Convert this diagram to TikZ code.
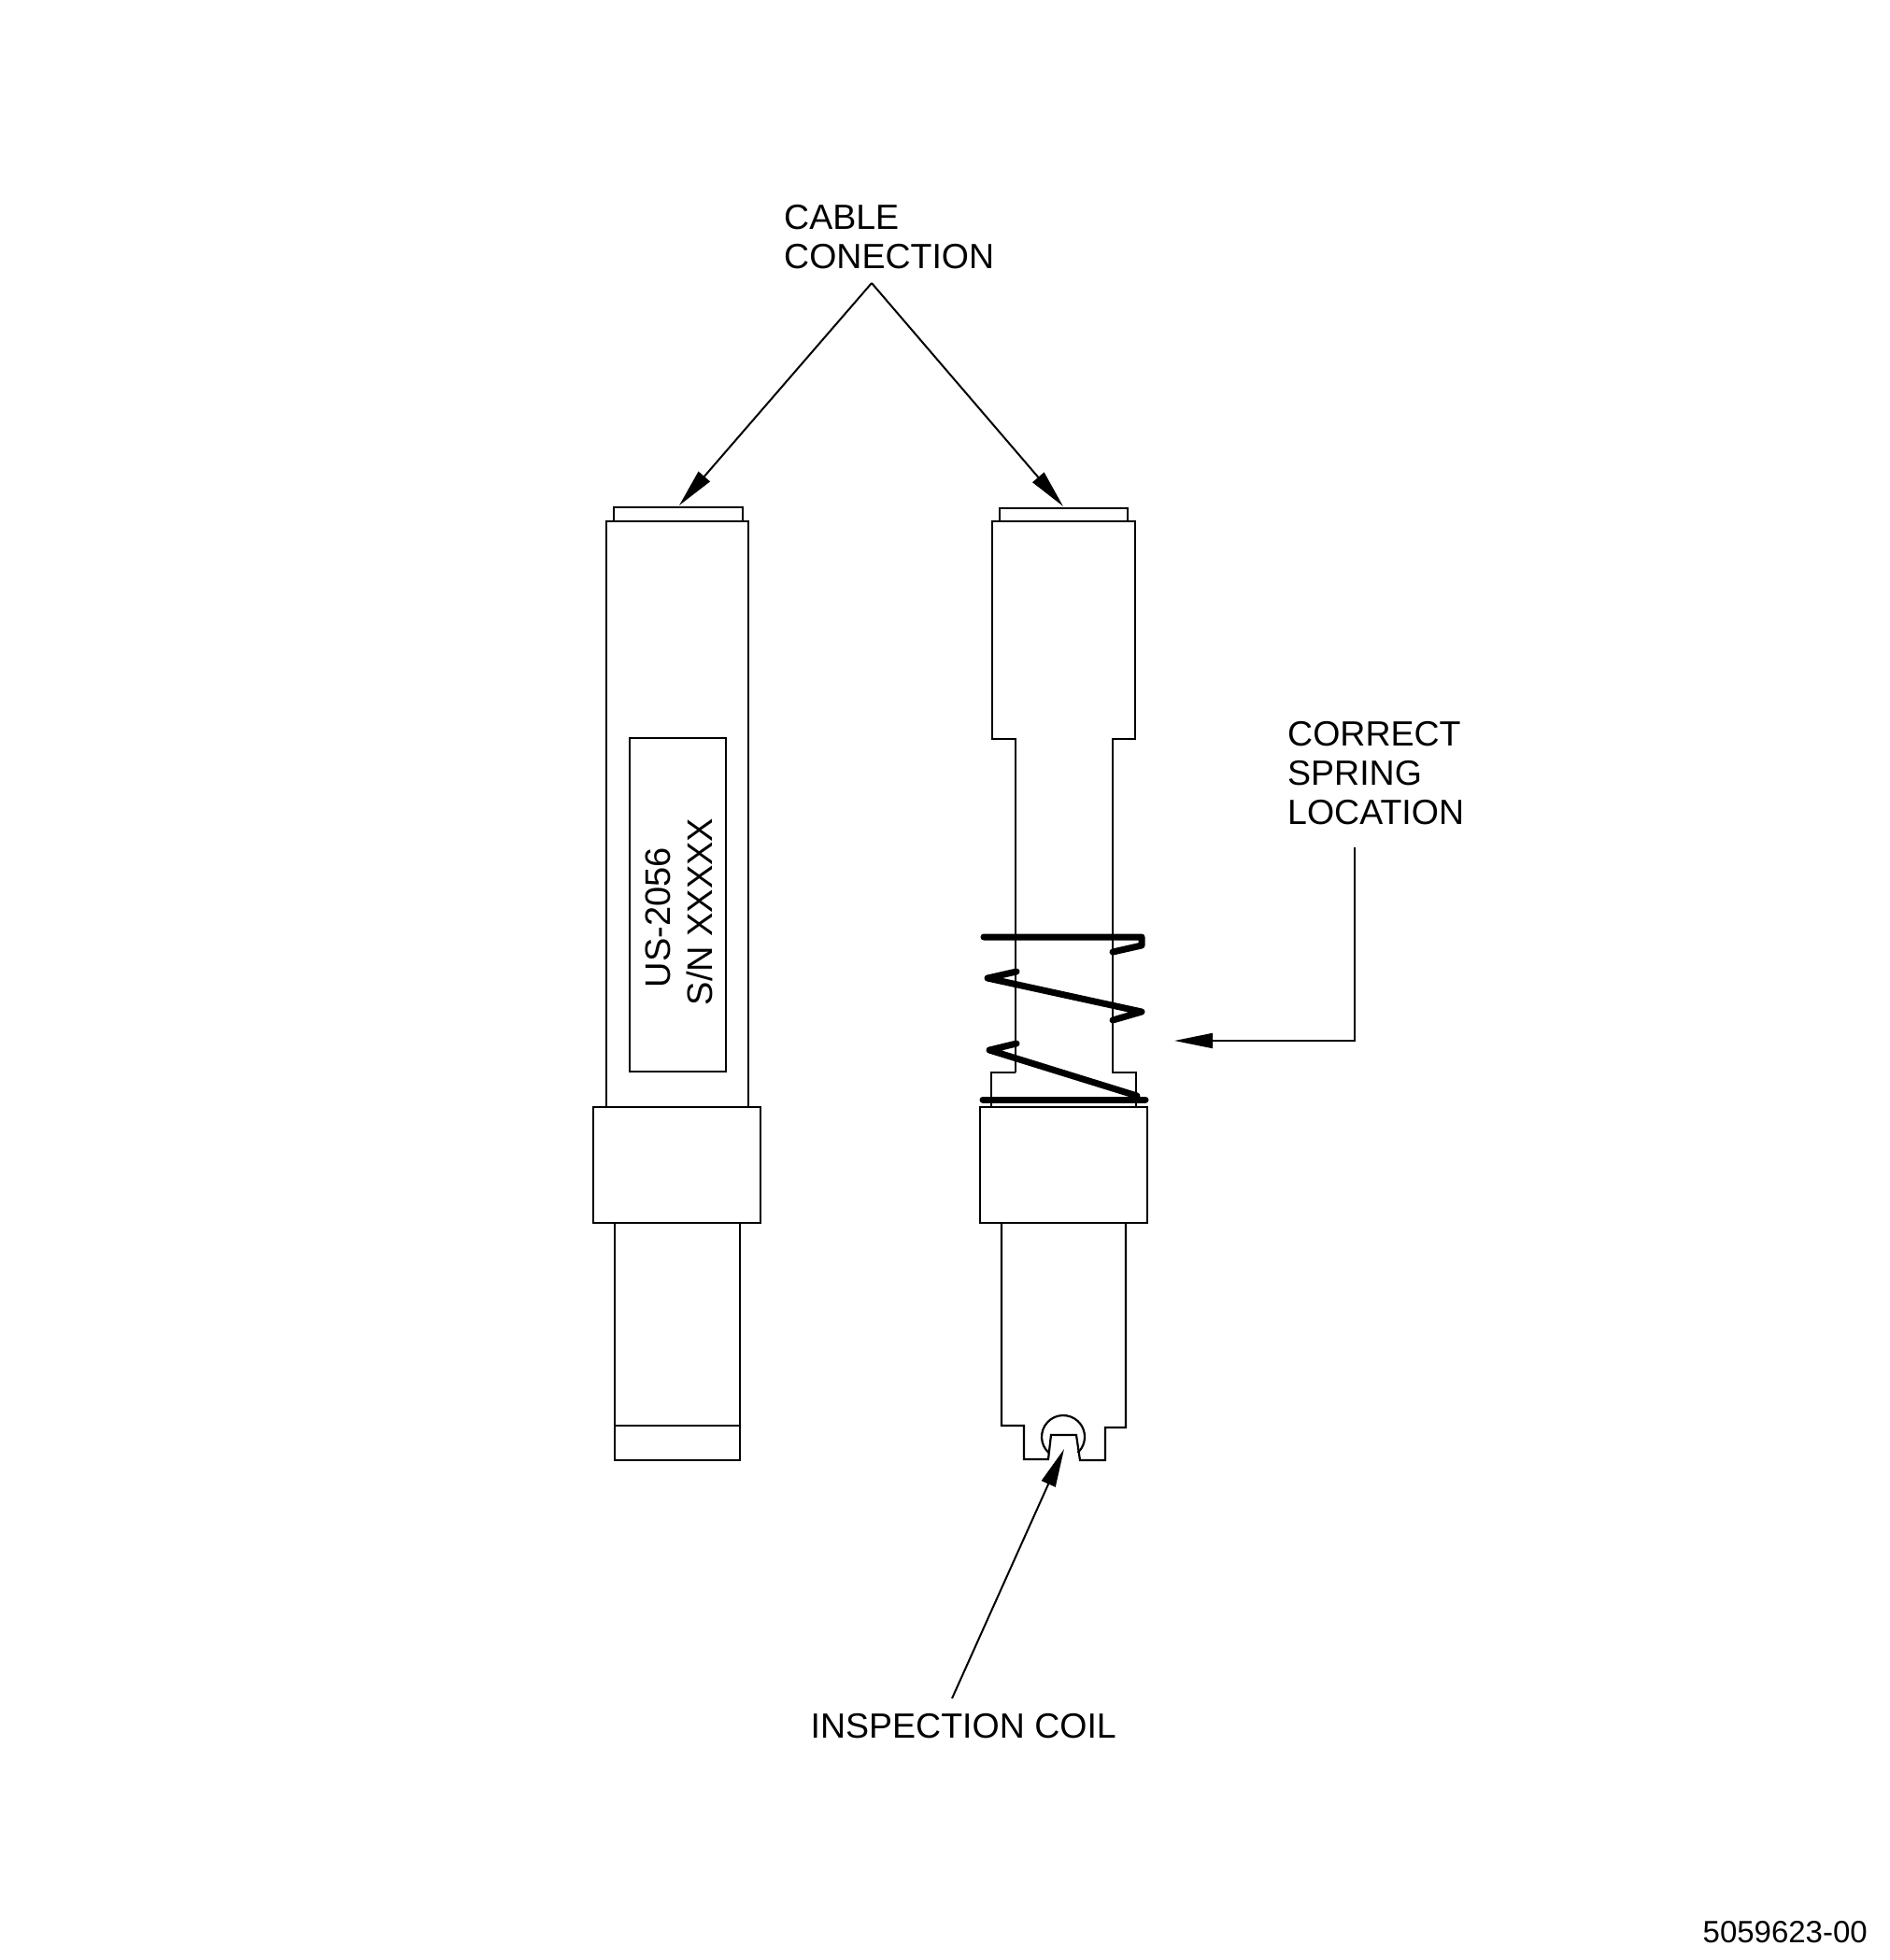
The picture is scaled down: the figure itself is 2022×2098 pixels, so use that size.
\documentclass[tikz,border=0pt]{standalone}
\usepackage{fontspec}
\setmainfont{Liberation Sans}
\usetikzlibrary{arrows.meta}
\tikzset{
	outline/.style={line width=2.2pt, black},
	coil/.style={line width=7pt, black, line cap=round, line join=round},
	pointer/.style={line width=2pt, black, -{Triangle[length=41pt,width=16pt]}},
	callout/.style={font=\fontsize{37.5}{42}\selectfont, align=left, inner sep=0pt, anchor=north west},
	plate/.style={font=\fontsize{38}{42}\selectfont, rotate=90, inner sep=0pt, anchor=base}
}

\begin{document}
\begin{tikzpicture}[x=1pt, y=-1pt]
	\useasboundingbox (0, 0) rectangle (2022, 2098);
	% left probe
	\draw [outline] (657, 558) rectangle (795, 543);
	\draw [outline] (649, 558) rectangle (801, 1185);
	\draw [outline] (674, 790) rectangle (777, 1147);
	\draw [outline] (635, 1185) rectangle (814, 1309);
	\draw [outline] (658, 1309) rectangle (792, 1563);
	\draw [outline] (658, 1526) -- (792, 1526);
	\node[plate] (model) at (717, 982) {US-2056};
	\node[plate] (serial) at (762, 976) {S/N XXXXX};
	% right probe
	\draw [outline] (1070, 558) rectangle (1207, 544);
	\draw [outline] (1087, 1148) -- (1087, 791) -- (1062, 791) -- (1062, 558) -- (1215, 558) -- (1215, 791) -- (1191, 791) -- (1191, 1148) -- (1216, 1148) -- (1216, 1185);
	\draw [outline] (1087, 1148) -- (1061, 1148) -- (1061, 1185);
	\draw [outline] (1049, 1185) rectangle (1228, 1309);
	\draw [outline] (1072, 1309) -- (1072, 1526) -- (1096, 1526) -- (1096, 1562) -- (1122, 1562) -- (1125, 1536) -- (1152, 1536) -- (1156, 1563) -- (1183, 1563) -- (1183, 1528) -- (1205, 1528) -- (1205, 1309);
	\draw [outline] (1122.5, 1555) arc (132.4:407.6:23);
	% spring
	\draw [coil] (1053, 1003) -- (1222, 1003) -- (1222, 1012) -- (1191, 1019);
	\draw [coil] (1088, 1040) -- (1057, 1047) -- (1222, 1083) -- (1191, 1092);
	\draw [coil] (1088, 1117) -- (1059, 1124) -- (1217, 1173);
	\draw [coil] (1052, 1177) -- (1226, 1177);
	% labels
	\node[callout] (cable) at (839, 219) {CABLE\\CONECTION};
	\node[callout] (spring) at (1378, 772) {CORRECT\\SPRING\\LOCATION};
	\node[callout] (inspection) at (867.5, 1834) {INSPECTION COIL};
	\node[font=\fontsize{33}{38}\selectfont, inner sep=0pt, anchor=base east] (partno) at (1999, 2079) {5059623-00};
	% pointers
	\coordinate (apex) at (933, 303);
	\coordinate (lefttip) at (727, 541);
	\coordinate (righttip) at (1138, 542);
	\coordinate (springtop) at (1450, 907);
	\coordinate (springtip) at (1257, 1114);
	\coordinate (coiltail) at (1019, 1818);
	\coordinate (coiltip) at (1139, 1551);
	\draw [pointer] (apex) -- (lefttip);
	\draw [pointer] (apex) -- (righttip);
	\draw [pointer] (springtop) |- (springtip);
	\draw [pointer] (coiltail) -- (coiltip);
\end{tikzpicture}
\end{document}
